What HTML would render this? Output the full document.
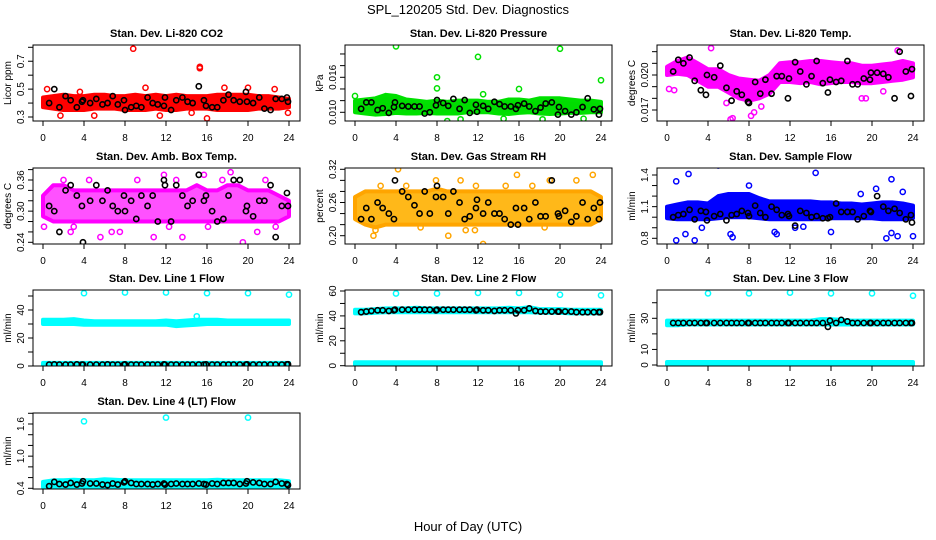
<!DOCTYPE html>
<html><head><meta charset="utf-8"><style>
html,body{margin:0;padding:0;background:#fff;}
svg{display:block;font-family:"Liberation Sans",Arial,sans-serif;}
</style></head><body>
<svg id="chart" width="936" height="540" viewBox="0 0 936 540" xmlns="http://www.w3.org/2000/svg">
<rect x="0" y="0" width="936" height="540" fill="#fff"/>
<text x="468" y="14" font-size="13" text-anchor="middle">SPL_120205  Std. Dev. Diagnostics</text>
<text x="468" y="531" font-size="13" text-anchor="middle">Hour of Day (UTC)</text>
</svg>
<script>
// ---- shared data ----
const xTicks = [0,4,8,12,16,20,24];
const bandHours = [0,1,2,3,4,5,6,7,8,9,10,11,12,13,14,15,16,17,18,19,20,21,22,23,24];
const blackHours = [0.6,1.1,1.6,2.2,2.7,3.3,3.8,3.9,4.6,5.2,5.8,6.3,6.8,7.3,7.9,8.0,8.6,9.1,9.6,10.2,10.7,11.2,11.8,11.9,12.5,13.0,13.6,14.1,14.6,15.2,15.7,15.9,16.5,17.0,17.6,18.1,18.6,19.2,19.8,19.9,20.5,21.1,21.6,22.2,22.7,23.3,23.8,23.9];

// CO2
const co2Low = [0.37,0.36,0.35,0.35,0.35,0.36,0.36,0.36,0.35,0.35,0.35,0.36,0.35,0.35,0.36,0.36,0.36,0.35,0.35,0.35,0.35,0.36,0.36,0.36,0.37];
const co2High = [0.44,0.45,0.46,0.45,0.45,0.46,0.46,0.45,0.45,0.46,0.45,0.46,0.45,0.46,0.45,0.45,0.45,0.46,0.46,0.46,0.46,0.45,0.45,0.44,0.43];
const co2OutX = [8.8,15.3,15.3,16,1.7,5,11.4,0.4,10,17.7,22.6,23.9,20,3.6,14.5];
const co2OutY = [0.79,0.65,0.66,0.29,0.31,0.31,0.31,0.50,0.51,0.51,0.50,0.33,0.51,0.48,0.33];
const co2Black = [0.40,0.50,0.37,0.45,0.42,0.37,0.41,0.42,0.40,0.43,0.39,0.40,0.45,0.39,0.42,0.35,0.37,0.38,0.37,0.44,0.40,0.39,0.38,0.44,0.35,0.42,0.44,0.41,0.40,0.52,0.42,0.38,0.37,0.37,0.42,0.46,0.42,0.41,0.48,0.41,0.40,0.44,0.36,0.35,0.43,0.43,0.44,0.41];
// Pressure
const prLow = [0.0100,0.0098,0.0096,0.0097,0.0099,0.0098,0.0098,0.0099,0.0098,0.0098,0.0098,0.0100,0.0100,0.0100,0.0098,0.0097,0.0099,0.0100,0.0098,0.0097,0.0098,0.0099,0.0099,0.0100,0.0100];
const prHigh = [0.0120,0.0122,0.0124,0.0130,0.0128,0.0122,0.0120,0.0118,0.0120,0.0118,0.0120,0.0120,0.0120,0.0118,0.0118,0.0122,0.0122,0.0120,0.0124,0.0124,0.0124,0.0122,0.0120,0.0120,0.0118];
const prOutX = [4,12,20,8,24,0,8,16,9,10.3,18.3,22.3,14.5,12.5];
const prOutY = [0.0213,0.0195,0.0209,0.0160,0.0155,0.0128,0.0141,0.0140,0.0085,0.0088,0.0088,0.0089,0.0089,0.0131];
const prBlack = [0.0106,0.0117,0.0117,0.0104,0.0107,0.0099,0.0109,0.0117,0.0111,0.0110,0.0110,0.0110,0.0098,0.0100,0.0112,0.0121,0.0116,0.0111,0.0123,0.0106,0.0121,0.0099,0.0113,0.0101,0.0111,0.0106,0.0118,0.0114,0.0110,0.0110,0.0106,0.0112,0.0115,0.0110,0.0102,0.0108,0.0115,0.0117,0.0096,0.0109,0.0102,0.0096,0.0100,0.0109,0.0124,0.0105,0.0096,0.0106];
// Li-820 Temp
const tLow = [0.0200,0.0201,0.0200,0.0195,0.0190,0.0190,0.0185,0.0180,0.0178,0.0180,0.0184,0.0194,0.0194,0.0193,0.0194,0.0192,0.0193,0.0194,0.0194,0.0193,0.0193,0.0194,0.0195,0.0196,0.0198];
const tHigh = [0.0207,0.0212,0.0215,0.0210,0.0205,0.0205,0.0200,0.0197,0.0196,0.0195,0.0200,0.0210,0.0211,0.0211,0.0212,0.0212,0.0211,0.0210,0.0210,0.0208,0.0208,0.0209,0.0210,0.0212,0.0210];
const tOutX = [4.3,6.4,6.2,8.2,8.5,0.2,0.7,19,19.4,21.1,22.5,9.2,5.8];
const tOutY = [0.0223,0.0163,0.0162,0.0165,0.0168,0.0188,0.0187,0.0180,0.0180,0.0186,0.0221,0.0173,0.0176];
const tBlack = [0.0203,0.0213,0.0210,0.0215,0.0195,0.0187,0.0183,0.0200,0.0198,0.0208,0.0189,0.0178,0.0186,0.0183,0.0177,0.0176,0.0194,0.0184,0.0196,0.0184,0.0199,0.0199,0.0180,0.0197,0.0211,0.0203,0.0192,0.0199,0.0212,0.0193,0.0185,0.0196,0.0194,0.0195,0.0212,0.0192,0.0192,0.0197,0.0196,0.0202,0.0202,0.0201,0.0198,0.0180,0.0220,0.0203,0.0182,0.0205];
// Amb box temp
const abLow = [0.29,0.28,0.28,0.28,0.28,0.28,0.28,0.28,0.28,0.28,0.28,0.28,0.28,0.28,0.28,0.28,0.28,0.28,0.28,0.28,0.28,0.28,0.28,0.28,0.29];
const abHigh = [0.33,0.35,0.35,0.34,0.34,0.34,0.34,0.34,0.34,0.34,0.34,0.34,0.34,0.34,0.34,0.35,0.34,0.34,0.35,0.35,0.34,0.34,0.34,0.33,0.32];
const abOutX = [0.1,18.3,19.5,2.7,5.6,6.7,10.8,13.6,20.9,12.3,2,9.2,11.8,15.7,21.7,4.5,16.1,3.0,7.5,13.0,17.5,22.7];
const abOutY = [0.27,0.375,0.24,0.26,0.25,0.26,0.25,0.25,0.26,0.27,0.36,0.36,0.37,0.37,0.36,0.36,0.27,0.27,0.26,0.36,0.36,0.27];
const abBlack = [0.31,0.30,0.26,0.34,0.35,0.33,0.31,0.24,0.32,0.35,0.32,0.34,0.31,0.30,0.33,0.30,0.32,0.285,0.33,0.31,0.33,0.28,0.36,0.35,0.28,0.35,0.33,0.31,0.32,0.37,0.32,0.33,0.30,0.28,0.285,0.33,0.36,0.36,0.30,0.31,0.29,0.32,0.32,0.35,0.25,0.31,0.335,0.31];
// Gas stream RH
const rhLow = [0.23,0.22,0.215,0.22,0.22,0.22,0.22,0.22,0.22,0.22,0.22,0.22,0.22,0.22,0.22,0.22,0.22,0.22,0.22,0.22,0.22,0.22,0.22,0.22,0.23];
const rhHigh = [0.27,0.28,0.28,0.28,0.28,0.28,0.28,0.28,0.285,0.28,0.28,0.28,0.28,0.28,0.28,0.28,0.28,0.28,0.28,0.28,0.28,0.28,0.28,0.28,0.27];
const rhOutX = [4.2,7.9,15.8,23.2,21.6,12.5,9.1,2.0,10.8,11.7,18.5,6.4,2.5,14.7,17.3,10.3,11.8,1.8,5.0,19.0];
const rhOutY = [0.32,0.30,0.31,0.31,0.30,0.185,0.20,0.21,0.21,0.21,0.215,0.215,0.29,0.29,0.29,0.30,0.29,0.20,0.29,0.30];
const rhBlack = [0.23,0.25,0.23,0.26,0.25,0.24,0.23,0.30,0.28,0.27,0.255,0.24,0.28,0.24,0.27,0.29,0.27,0.24,0.28,0.26,0.23,0.235,0.25,0.265,0.24,0.26,0.24,0.24,0.23,0.22,0.25,0.22,0.25,0.23,0.26,0.235,0.235,0.30,0.24,0.235,0.245,0.225,0.235,0.26,0.23,0.25,0.23,0.26];
// Sample flow
const sfLow = [0.99,0.98,0.98,0.98,0.98,0.99,1.0,1.0,1.0,0.99,0.98,0.98,0.98,0.98,0.98,0.98,0.99,0.99,0.99,0.99,0.99,0.98,0.98,0.98,0.99];
const sfHigh = [1.10,1.12,1.14,1.14,1.13,1.20,1.22,1.22,1.22,1.18,1.15,1.15,1.15,1.15,1.15,1.14,1.14,1.13,1.13,1.12,1.13,1.14,1.14,1.13,1.11];
const sfOutX = [5,14.5,2.1,0.9,21.9,0.9,2.7,1.8,6.2,6.4,10.5,10.7,16,21.4,21.9,22.5,24,20.4,12.5,8,3.4,13.3,18.9,23.0];
const sfOutY = [1.49,1.42,1.41,1.34,1.36,0.78,0.78,0.84,0.84,0.81,0.86,0.84,0.86,0.80,0.85,0.82,0.82,1.27,0.90,1.30,0.90,0.91,1.22,1.24];
const sfBlack = [1.0,1.02,1.03,1.07,0.98,1.06,1.05,0.97,1.01,1.03,0.97,1.02,1.03,1.06,1.04,1.01,1.11,1.04,1.00,1.10,1.07,1.02,1.03,1.01,0.92,1.06,1.04,1.0,1.01,0.99,0.99,1.0,1.13,1.05,1.05,1.05,0.98,1.01,1.06,1.05,1.20,1.1,1.06,1.08,1.04,0.98,1.02,0.95];
// Line 1
const l1Low = [30,30,30,30,29.5,29.5,29.5,29.5,29.5,29.5,29.5,29.5,29.5,28.5,29,29.5,30,30,30,30,30,30,30,30,30];
const l1High = [33,33,33,33.5,32.5,32,32,32,32,32,32,32,32.5,32,32.5,33,33,33,32.5,32.5,32.5,32.5,32.5,32.5,32.5];
const l1BaseLow = [0.3,0.3,0.3,0.3,0.3,0.3,0.3,0.3,0.3,0.3,0.3,0.3,0.3,0.3,0.3,0.3,0.3,0.3,0.3,0.3,0.3,0.3,0.3,0.3,0.3];
const l1BaseHigh = [2.2,2.2,2.2,2.2,2.2,2.2,2.2,2.2,2.2,2.2,2.2,2.2,2.2,2.2,2.2,2.2,2.2,2.2,2.2,2.2,2.2,2.2,2.2,2.2,2.2];
const l1OutX = [4,8,12,16,20,24,15];
const l1OutY = [52,52.5,52.5,52,52,51,35.5];
const l1Black = [1,1.1,1,1,1,1.1,1,1,1,1,1,1.1,1,1,1,1.1,1,1,1,1,1,1,1.1,1,1,1,1,1,1,1,1,1.1,1,1,1,1,1,1,1,1.1,1,1,1,1,1,1,1.1,1.2];
// Line 2
const l2Low = [42,42,42.5,43,43,43,43,43,43,43,43,43,43,43,43,43,43,43,42.5,42.5,42.5,42,42,42,42];
const l2High = [45,45,45.5,46,46,46,46.5,46,46,46,46,46,46,46,46,46.5,46,47,45.5,45.5,45.5,45,45,45,45];
const l2BaseLow = [0.2,0.2,0.2,0.2,0.2,0.2,0.2,0.2,0.2,0.2,0.2,0.2,0.2,0.2,0.2,0.2,0.2,0.2,0.2,0.2,0.2,0.2,0.2,0.2,0.2];
const l2BaseHigh = [2.8,2.8,2.8,2.8,2.8,2.8,2.8,2.8,2.8,2.8,2.8,2.8,2.8,2.8,2.8,2.8,2.8,2.8,2.8,2.8,2.8,2.8,2.8,2.8,2.8];
const l2OutX = [4,8,12,16,20,24];
const l2OutY = [58,58,58.5,58.5,57,56.5];
const l2Black = [43,43.5,44,44.5,44.5,44,44.5,45,45,45,45,45,45,45,44.5,45,45,45,45,45,45,45,44.5,45,44.5,44.5,44,44.5,44.5,44.5,42,44.5,44.5,46,44,43.5,43.5,43.5,43.5,43.5,43.5,43.5,43,43,43,43,43,43];
// Line 3
const l3Low = [25.5,25.5,26,26,26,26,26,26,26,26,26,26,26,26,26,26,26,26,26,26,26,26,26,26,26];
const l3High = [28.5,28.5,28.5,28.5,28.5,28.5,28.5,28.5,28.5,28.5,28.5,28.5,28.5,28.5,28.5,29.5,29.5,29,28.5,28.5,28.5,28.5,28.5,28.5,28.5];
const l3BaseLow = [0.3,0.3,0.3,0.3,0.3,0.3,0.3,0.3,0.3,0.3,0.3,0.3,0.3,0.3,0.3,0.3,0.3,0.3,0.3,0.3,0.3,0.3,0.3,0.3,0.3];
const l3BaseHigh = [1.9,1.9,1.9,1.9,1.9,1.9,1.9,1.9,1.9,1.9,1.9,1.9,1.9,1.9,1.9,1.9,1.9,1.9,1.9,1.9,1.9,1.9,1.9,1.9,1.9];
const l3OutX = [4,8,12,16,20,24];
const l3OutY = [46,46,46.5,46,46,44.5];
const l3Black = [27,27,27,27,27,27,27,27,27,27,27,27,27,27,27,27,27,27,27,27,27,27,27,27,27,27,27,27,27,27,24.5,28.5,27,29,28,27,27,27,27,27,27,27,27,27,27,27,27,27];
// Line 4
const l4Low = [0.42,0.43,0.43,0.43,0.43,0.43,0.43,0.43,0.43,0.43,0.43,0.43,0.43,0.43,0.43,0.43,0.43,0.43,0.43,0.43,0.43,0.43,0.43,0.43,0.43];
const l4High = [0.52,0.55,0.55,0.56,0.55,0.55,0.57,0.56,0.55,0.55,0.55,0.55,0.55,0.55,0.55,0.55,0.55,0.56,0.55,0.55,0.55,0.55,0.55,0.55,0.53];
const l4OutX = [4,12,20];
const l4OutY = [1.65,1.72,1.72];
const l4Black = [0.44,0.52,0.48,0.47,0.50,0.47,0.49,0.53,0.49,0.49,0.47,0.46,0.49,0.47,0.51,0.53,0.50,0.48,0.48,0.48,0.47,0.48,0.49,0.47,0.48,0.49,0.48,0.48,0.48,0.49,0.48,0.47,0.49,0.48,0.50,0.50,0.50,0.48,0.49,0.53,0.51,0.50,0.48,0.48,0.52,0.49,0.48,0.46];

// y-axis tick values & labels
const co2Ticks=[0.3,0.4,0.5,0.6,0.7,0.8], co2Labels=[0.3,0.5,0.7];
const prTicks=[0.010,0.012,0.014,0.016,0.018,0.020], prLabels=[0.010,0.016];
const tTicks=[0.017,0.018,0.019,0.020,0.021,0.022], tLabels=[0.017,0.020];
const abTicks=[0.24,0.26,0.28,0.30,0.32,0.34,0.36,0.38], abLabels=[0.24,0.30,0.36];
const rhTicks=[0.20,0.22,0.24,0.26,0.28,0.30,0.32], rhLabels=[0.20,0.26,0.32];
const sfTicks=[0.8,0.9,1.0,1.1,1.2,1.3,1.4], sfLabels=[0.8,1.1,1.4];
const l1Ticks=[0,10,20,30,40,50], l1Labels=[0,20,40];
const l2Ticks=[0,10,20,30,40,50,60], l2Labels=[0,20,40,60];
const l3Ticks=[0,10,20,30,40], l3Labels=[0,10,30];
const l4Ticks=[0.4,0.6,0.8,1.0,1.2,1.4,1.6,1.8], l4Labels=[0.4,1.0,1.6];

// ---- layout (pixel calibration, not data) ----
const colLeft=[33,345,657], rowTop=[45,168,290,413], boxW=267, boxH=76;
const panels = [
 {name:'co2',title:'Stan. Dev. Li-820 CO2',ylab:'Licor ppm',c:0,r:0,color:'#ff0000',fill:'#ff0000',v1:0.3,p1:117,v2:0.8,p2:47.3,low:co2Low,high:co2High,ox:co2OutX,oy:co2OutY,bk:co2Black,ticks:co2Ticks,labels:co2Labels,fmt:1},
 {name:'pressure',title:'Stan. Dev. Li-820 Pressure',ylab:'kPa',c:1,r:0,color:'#00e000',fill:'#00dd00',v1:0.010,p1:112.3,v2:0.016,p2:77.3,low:prLow,high:prHigh,ox:prOutX,oy:prOutY,bk:prBlack,ticks:prTicks,labels:prLabels,fmt:3},
 {name:'li820-temp',title:'Stan. Dev. Li-820 Temp.',ylab:'degrees C',c:2,r:0,color:'#ff00ff',fill:'#ff00ff',v1:0.017,p1:110,v2:0.020,p2:75,low:tLow,high:tHigh,ox:tOutX,oy:tOutY,bk:tBlack,ticks:tTicks,labels:tLabels,fmt:3},
 {name:'amb-box-temp',title:'Stan. Dev. Amb. Box Temp.',ylab:'degrees C',c:0,r:1,color:'#ff00ff',fill:'#ff33ff',v1:0.24,p1:242.3,v2:0.36,p2:180,low:abLow,high:abHigh,ox:abOutX,oy:abOutY,bk:abBlack,ticks:abTicks,labels:abLabels,fmt:2,op:0.85},
 {name:'gas-rh',title:'Stan. Dev. Gas Stream RH',ylab:'percent',c:1,r:1,color:'#ffa500',fill:'#ffb000',v1:0.20,p1:235.7,v2:0.32,p2:169.3,low:rhLow,high:rhHigh,ox:rhOutX,oy:rhOutY,bk:rhBlack,ticks:rhTicks,labels:rhLabels,fmt:2,op:0.9},
 {name:'sample-flow',title:'Stan. Dev. Sample Flow',ylab:'ml/min',c:2,r:1,color:'#0000ff',fill:'#0000ff',v1:0.8,p1:238.3,v2:1.4,p2:175,low:sfLow,high:sfHigh,ox:sfOutX,oy:sfOutY,bk:sfBlack,ticks:sfTicks,labels:sfLabels,fmt:1},
 {name:'line1-flow',title:'Stan. Dev. Line 1 Flow',ylab:'ml/min',c:0,r:2,color:'#00ffff',fill:'#00ffff',v1:0,p1:366,v2:40,p2:310,low:l1Low,high:l1High,bl:l1BaseLow,bh:l1BaseHigh,ox:l1OutX,oy:l1OutY,bk:l1Black,ticks:l1Ticks,labels:l1Labels,fmt:0},
 {name:'line2-flow',title:'Stan. Dev. Line 2 Flow',ylab:'ml/min',c:1,r:2,color:'#00ffff',fill:'#00ffff',v1:0,p1:365.7,v2:60,p2:291,low:l2Low,high:l2High,bl:l2BaseLow,bh:l2BaseHigh,ox:l2OutX,oy:l2OutY,bk:l2Black,ticks:l2Ticks,labels:l2Labels,fmt:0},
 {name:'line3-flow',title:'Stan. Dev. Line 3 Flow',ylab:'ml/min',c:2,r:2,color:'#00ffff',fill:'#00ffff',v1:0,p1:365,v2:30,p2:318.3,low:l3Low,high:l3High,bl:l3BaseLow,bh:l3BaseHigh,ox:l3OutX,oy:l3OutY,bk:l3Black,ticks:l3Ticks,labels:l3Labels,fmt:0},
 {name:'line4-flow',title:'Stan. Dev. Line 4 (LT) Flow',ylab:'ml/min',c:0,r:3,color:'#00ffff',fill:'#00ffff',v1:0.4,p1:488.3,v2:1.6,p2:424,low:l4Low,high:l4High,ox:l4OutX,oy:l4OutY,bk:l4Black,ticks:l4Ticks,labels:l4Labels,fmt:1}
];

const NS='http://www.w3.org/2000/svg';
const svg=document.getElementById('chart');
function mk(tag,attrs,parent){const e=document.createElementNS(NS,tag);for(const k in attrs)e.setAttribute(k,attrs[k]);(parent||svg).appendChild(e);return e;}

panels.forEach(p=>{
  const L=colLeft[p.c], T=rowTop[p.r], B=T+boxH, R=L+boxW;
  const xs=h=>L+10+h*(246/24);
  const ys=v=>p.p1+(v-p.v1)*(p.p2-p.p1)/(p.v2-p.v1);
  const g=mk('g',{});
  
  
  const clipId='clip-'+p.name;
  const cp=mk('clipPath',{id:clipId},g); mk('rect',{x:L,y:T,width:boxW,height:boxH},cp);
  const plot=mk('g',{'clip-path':'url(#'+clipId+')'},g);
  function band(lo,hi,nm){
    const n=Math.min(lo.length,hi.length,bandHours.length);
    let pts=[];
    for(let i=0;i<n;i++)pts.push(xs(bandHours[i]).toFixed(1)+','+ys(hi[i]).toFixed(1));
    for(let i=n-1;i>=0;i--)pts.push(xs(bandHours[i]).toFixed(1)+','+ys(lo[i]).toFixed(1));
    const poly=mk('polygon',{points:pts.join(' '),fill:p.fill,stroke:p.color,'stroke-width':4,'stroke-linejoin':'round','fill-opacity':p.op||1},plot);
    
    
  }
  band(p.low,p.high,p.name+'-band');
  if(p.bl) band(p.bl,p.bh,p.name+'-baseline-band');
  for(let i=0;i<Math.min(p.ox.length,p.oy.length);i++){
    const c=mk('circle',{cx:xs(p.ox[i]),cy:ys(p.oy[i]),r:2.6,fill:'none',stroke:p.color,'stroke-width':1.5},plot);
    
    
  }
  for(let i=0;i<Math.min(blackHours.length,p.bk.length);i++){
    const c=mk('circle',{cx:xs(blackHours[i]),cy:ys(p.bk[i]),r:2.6,fill:'none',stroke:'#000','stroke-width':1.6},plot);
    
    
  }
  mk('rect',{x:L,y:T,width:boxW,height:boxH,fill:'none',stroke:'#000','stroke-width':1},g);
  // x axis
  mk('line',{x1:xs(xTicks[0]),x2:xs(xTicks[xTicks.length-1]),y1:B,y2:B,stroke:'#000'},g);
  xTicks.forEach(t=>{
    mk('line',{x1:xs(t),x2:xs(t),y1:B,y2:B+5,stroke:'#000'},g);
    const tx=mk('text',{x:xs(t),y:B+20,'font-size':10,'text-anchor':'middle'},g);
    tx.textContent=t;
    
    
  });
  // y axis
  mk('line',{x1:L,x2:L,y1:ys(p.ticks[0]),y2:ys(p.ticks[p.ticks.length-1]),stroke:'#000'},g);
  p.ticks.forEach(t=>mk('line',{x1:L-5,x2:L,y1:ys(t),y2:ys(t),stroke:'#000'},g));
  p.labels.forEach(t=>{
    const y=ys(t), x=L-9;
    const tx=mk('text',{x:x,y:y,'font-size':10,'text-anchor':'middle',transform:'rotate(-90 '+x+' '+y+')'},g);
    tx.textContent=t.toFixed(p.fmt);
    
    
  });
  const yl=L-22, ym=T+boxH/2;
  const ylab=mk('text',{x:yl,y:ym,'font-size':10,'text-anchor':'middle',transform:'rotate(-90 '+yl+' '+ym+')'},g);
  ylab.textContent=p.ylab;
  
  
  const tt=mk('text',{x:L+boxW/2,y:T-8,'font-size':11,'font-weight':'bold','text-anchor':'middle'},g);
  tt.textContent=p.title;
  
  
});
</script>
</body></html>
